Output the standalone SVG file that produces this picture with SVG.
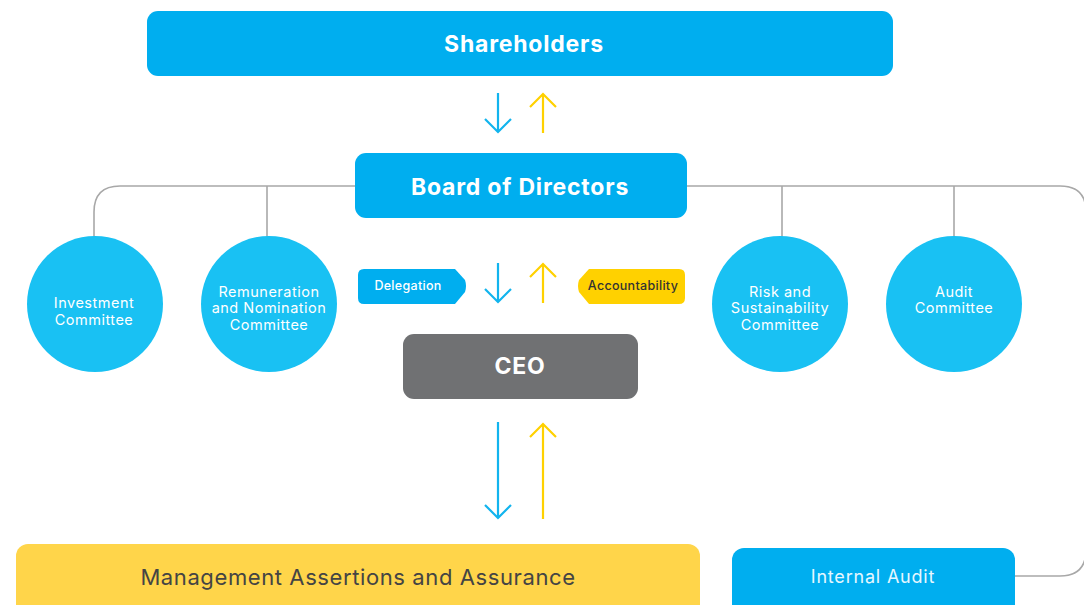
<svg xmlns="http://www.w3.org/2000/svg" width="1084" height="605" viewBox="0 0 1084 605">
<defs>
<style>
.box{fill:#00AEEF}
.circ{fill:#19C1F3}
.conn{fill:none;stroke:#A8A8A8;stroke-width:1.6}
.ab{fill:none;stroke:#12B4EE;stroke-width:2.2}
.ay{fill:none;stroke:#FFD100;stroke-width:2.2}
.t{font-family:Inter,"Noto Sans",sans-serif;text-anchor:middle}
.big{font-size:23px;font-weight:700;fill:#fff;letter-spacing:0.8px}
.ct{font-size:14.5px;fill:#fff;letter-spacing:0.5px}
.tag{font-size:12.5px;font-weight:500;letter-spacing:0.3px}
</style>
</defs>
<g id="connectors">
<path class="conn" d="M355,186 H120 Q94,186 94,212 V237"/>
<path class="conn" d="M267,186 V237"/>
<path class="conn" d="M687,186 H1060 Q1086,186 1086,212 V550 Q1086,576 1060,576 H1015"/>
<path class="conn" d="M782,186 V237"/>
<path class="conn" d="M954,186 V237"/>
<path class="ab" d="M498,93 V132 M485,119 L498,132 L511,119"/>
<path class="ay" d="M543,133 V94 M530,107 L543,94 L556,107"/>
<path class="ab" d="M498,263 V302 M485,289 L498,302 L511,289"/>
<path class="ay" d="M543,303 V264 M530,277 L543,264 L556,277"/>
<path class="ab" d="M498,422 V518 M485,505 L498,518 L511,505"/>
<path class="ay" d="M543,519 V424 M530,437 L543,424 L556,437"/>
</g>
<g id="shareholders">
<rect class="box" x="147" y="11" width="746" height="65" rx="11"/>
<text class="t big" x="524" y="52">Shareholders</text>
</g>
<g id="board">
<rect class="box" x="355" y="153" width="332" height="65" rx="11"/>
<text class="t big" x="520" y="195">Board of Directors</text>
</g>
<g id="investment">
<circle class="circ" cx="95" cy="304" r="68"/>
<text class="t ct" x="94" y="308">Investment</text>
<text class="t ct" x="94" y="325">Committee</text>
</g>
<g id="remuneration">
<circle class="circ" cx="269" cy="304" r="68"/>
<text class="t ct" x="269" y="297">Remuneration</text>
<text class="t ct" x="269" y="313">and Nomination</text>
<text class="t ct" x="269" y="330">Committee</text>
</g>
<g id="risk">
<circle class="circ" cx="780" cy="304" r="68"/>
<text class="t ct" x="780" y="297">Risk and</text>
<text class="t ct" x="780" y="313">Sustainability</text>
<text class="t ct" x="780" y="330">Committee</text>
</g>
<g id="audit">
<circle class="circ" cx="954" cy="304" r="68"/>
<text class="t ct" x="954" y="297">Audit</text>
<text class="t ct" x="954" y="313">Committee</text>
</g>
<g id="delegation">
<path class="box" d="M364,269 H455 L465,280 Q467,286 465,292 L455,304 H364 Q358,304 358,298 V275 Q358,269 364,269 Z"/>
<text class="t tag" x="408" y="290" fill="#fff">Delegation</text>
</g>
<g id="accountability">
<path fill="#FFD100" d="M679,269 H589 L579,280 Q577,286 579,292 L589,304 H679 Q685,304 685,298 V275 Q685,269 679,269 Z"/>
<text class="t tag" x="633" y="290" fill="#333">Accountability</text>
</g>
<g id="ceo">
<rect x="403" y="334" width="235" height="65" rx="11" fill="#707173"/>
<text class="t big" x="520" y="374">CEO</text>
</g>
<g id="management">
<rect x="16" y="544" width="684" height="80" rx="12" fill="#FFD54A"/>
<text class="t" x="358" y="585" font-size="22" letter-spacing="0.6" fill="#444">Management Assertions and Assurance</text>
</g>
<g id="internal-audit">
<rect class="box" x="732" y="548" width="283" height="80" rx="12"/>
<text class="t" x="873" y="583" font-size="18" letter-spacing="0.8" fill="#E6F7FF">Internal Audit</text>
</g>
</svg>
